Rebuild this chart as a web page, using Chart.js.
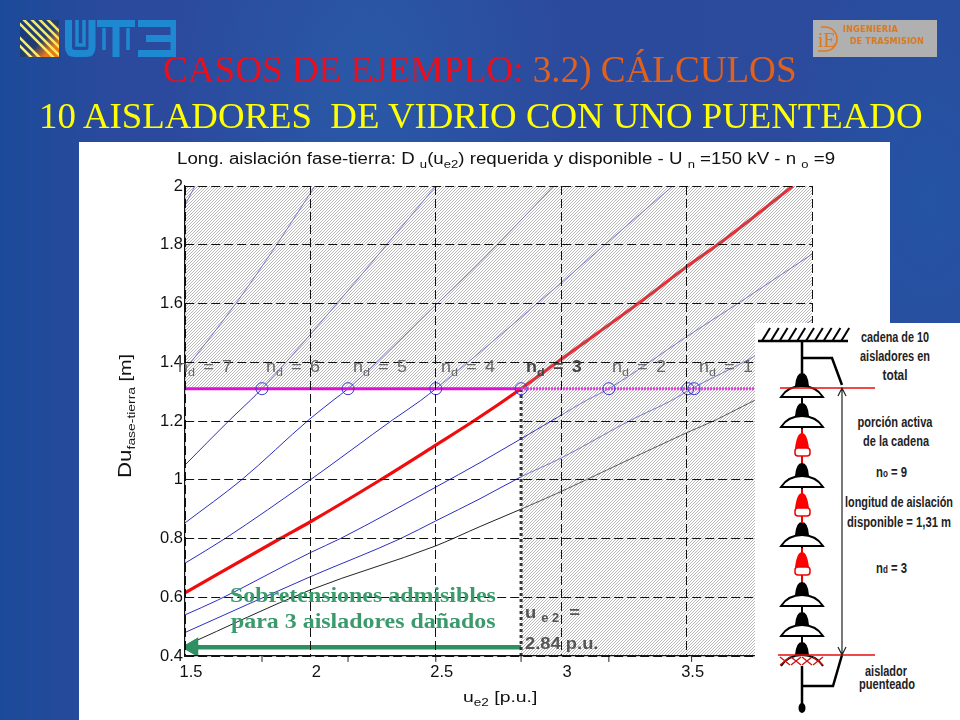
<!DOCTYPE html>
<html lang="es">
<head>
<meta charset="utf-8">
<title>Casos de ejemplo</title>
<script src="https://cdn.jsdelivr.net/npm/chart.js@4/dist/chart.umd.min.js"></script>
<style>
html, body { margin: 0; padding: 0; }
body {
    position: relative; width: 960px; height: 720px; overflow: hidden;
    background:
        radial-gradient(ellipse 200px 300px at 370px 90px, rgba(40,100,175,.55), rgba(40,100,175,0)),
        radial-gradient(ellipse 160px 300px at 930px 200px, rgba(30,90,170,.6), rgba(30,90,170,0)),
        linear-gradient(90deg, #1c4a9a 0, #2b4a9e 12%, #2d4a9c 100%);
    font-family: "Liberation Sans", Arial, sans-serif;
}
.abs { position: absolute; white-space: nowrap; transform-origin: left top; }
#panel { position: absolute; left: 79px; top: 142px; width: 811px; height: 578px; background: #fff; }
#chartBox { position: absolute; left: 0; top: 0; width: 960px; height: 720px; }
.serif { font-family: "Liberation Serif", "Times New Roman", serif; }
.title { line-height: 40px; }
sub { font-size: 70%; line-height: 0; vertical-align: -4px; }
.nd { color: #666; font-size: 16px; top: 358px; word-spacing: 3px; transform: scaleX(1.12); }
.green { color: #3a9a6c; font-weight: bold; font-size: 20px; transform: scaleX(1.195); }
.note { color: #555; font-weight: bold; font-size: 17px; transform: scaleX(1.08); }
#diagram { position: absolute; left: 755px; top: 323px; width: 205px; height: 397px; background: #fff; }
</style>
</head>
<body>
<div id="panel"></div>
<div id="chartBox"><canvas id="cadenaChart" width="960" height="720"></canvas></div>

<!-- logos -->
<svg class="abs" style="left:20px;top:20px" width="156" height="38" viewBox="0 0 156 38">
  <defs>
    <linearGradient id="fondo" x1="0" y1="0" x2="1" y2="1"><stop offset="0" stop-color="#123a8e"/><stop offset=".55" stop-color="#243c70"/><stop offset=".8" stop-color="#e8781a"/><stop offset="1" stop-color="#e8781a"/></linearGradient>
    <linearGradient id="raya" gradientUnits="userSpaceOnUse" x1="0" y1="37" x2="39" y2="0"><stop offset="0" stop-color="#fff060"/><stop offset="1" stop-color="#f4e84a"/></linearGradient>
    <clipPath id="cuad"><rect width="39" height="37"/></clipPath>
  </defs>
  <g clip-path="url(#cuad)">
    <rect width="39" height="37" fill="url(#fondo)"/>
    <g stroke="url(#raya)" stroke-width="2.6">
      <path d="M-22 4 L12 38 M-14 4 L20 38 M-6 -2 L34 38 M2 -2 L42 38 M10 -2 L50 38 M18 -2 L58 38 M26 -2 L66 38"/>
    </g>
  </g>
  <g fill="none" stroke="#1e88d0">
    <path stroke-width="7" d="M48.5 0 V27 Q48.5 33.5 55 33.5 H66 Q72 33.5 72 27 V0"/>
    <path stroke-width="3.5" d="M57 0 V25 H64 V0"/>
    <path stroke-width="7" d="M77 3.5 H115 M96 3.5 V37"/>
    <path stroke-width="3.5" d="M84 8 V30 M108 8 V30"/>
    <path stroke-width="7" d="M118 3.5 H154 V33.5 H118 M126 18.5 H152"/>
  </g>
</svg>
<div class="abs" style="left:813px;top:20px;width:124px;height:37px;background:#b0b0b0"></div>
<svg class="abs" style="left:813px;top:20px" width="32" height="37">
  <path d="M8 7 H12 A12 12 0 0 1 12 31 H5" fill="none" stroke="#e0781c" stroke-width="1.6"/>
  <text x="5" y="27" font-size="20" fill="#e0781c" font-family="Liberation Serif">iE</text>
</svg>
<div class="abs" style="left:843px;top:25px;color:#d87a20;font:bold 8px 'DejaVu Sans';letter-spacing:.3px">INGENIERIA</div>
<div class="abs" style="left:850px;top:37px;color:#d87a20;font:bold 8px 'DejaVu Sans';letter-spacing:.2px">DE TRASMISION</div>

<!-- titles -->
<div class="abs serif title" style="left:163px;top:50px;font-size:37.1px"><span style="color:#e8101e">CASOS DE EJEMPLO:</span> <span style="color:#e0601c">3.2) CÁLCULOS</span></div>
<div class="abs serif title" style="left:39px;top:96px;font-size:36.8px;color:#ffff00">10 AISLADORES&nbsp; DE VIDRIO CON UNO PUENTEADO</div>

<!-- chart texts -->
<div class="abs" style="left:177px;top:150px;font-size:16px;color:#111;transform:scaleX(1.167)">Long. aislación fase-tierra: D <sub>u</sub>(u<sub>e2</sub>) requerida y disponible - U <sub>n</sub> =150 kV - n <sub>o</sub> =9</div>
<div class="abs" style="left:115px;top:478px;font-size:16px;color:#111;transform:rotate(-90deg) scaleX(1.24)"><span style="font-size:18px">Du</span><sub>fase-tierra</sub> [m]</div>
<div class="abs" style="left:463px;top:688px;font-size:15.5px;color:#111;transform:scaleX(1.25)">u<sub>e2</sub> [p.u.]</div>

<div class="abs nd" style="left:178px">n<sub>d</sub> = 7</div>
<div class="abs nd" style="left:266px">n<sub>d</sub> = 6</div>
<div class="abs nd" style="left:353px">n<sub>d</sub> = 5</div>
<div class="abs nd" style="left:441px">n<sub>d</sub> = 4</div>
<div class="abs nd" style="left:526px;font-weight:bold;color:#444">n<sub>d</sub> = 3</div>
<div class="abs nd" style="left:612px">n<sub>d</sub> = 2</div>
<div class="abs nd" style="left:699px">n<sub>d</sub> = 1</div>

<div class="abs serif green" style="left:230px;top:584px">Sobretensiones admisibles</div>
<div class="abs serif green" style="left:231px;top:610px">para 3 aisladores dañados</div>
<div class="abs note" style="left:525px;top:603px">u <sub>e 2</sub>&nbsp; =</div>
<div class="abs note" style="left:525px;top:634px">2.84 p.u.</div>

<!-- insulator chain diagram -->
<div id="diagram"></div>
<svg class="abs" style="left:0;top:0" width="960" height="720" viewBox="0 0 960 720" id="chain"></svg>

<script>
// values, one x / y list per curve
const xNd8 = [1.5, 1.54];
const yNd8 = [1.935, 2];
const xNd7 = [1.5, 1.707, 1.87, 2.018];
const yNd7 = [1.374, 1.605, 1.806, 2];
const xNd6 = [1.5, 1.68, 1.76, 1.807, 2.106, 2.31, 2.5];
const yNd6 = [1.05, 1.205, 1.27, 1.31, 1.6, 1.806, 2];
const xNd5 = [1.5, 1.726, 1.995, 2.09, 2.15, 2.5, 2.676, 2.97];
const yNd5 = [0.853, 1, 1.205, 1.27, 1.31, 1.595, 1.74, 2];
const xNd4 = [1.5, 1.66, 2, 2.33, 2.44, 2.5, 2.836, 2.91, 3, 3.18, 3.445];
const yNd4 = [0.716, 0.8, 1, 1.205, 1.27, 1.31, 1.55, 1.605, 1.67, 1.805, 2];
const xNd3 = [1.5, 1.88, 2, 2.28, 2.5, 2.66, 2.84, 3, 3.315, 3.5, 3.633, 3.924];
const yNd3 = [0.615, 0.8, 0.857, 1, 1.118, 1.205, 1.31, 1.41, 1.605, 1.725, 1.806, 2];
const xNd2 = [1.5, 1.63, 2, 2.12, 2.5, 2.68, 3, 3.1, 3.19, 3.5, 3.713, 4];
const yNd2 = [0.54, 0.59, 0.752, 0.8, 0.975, 1.06, 1.22, 1.27, 1.31, 1.487, 1.605, 1.768];
const xNd1 = [1.5, 2, 2.36, 2.5, 2.68, 2.84, 3, 3.28, 3.44, 3.52, 3.765, 4];
const yNd1 = [0.48, 0.67, 0.8, 0.86, 0.937, 1.01, 1.074, 1.204, 1.27, 1.31, 1.418, 1.544];
const xNd0 = [1.5, 2, 2.5, 2.68, 2.84, 3, 3.1, 3.5, 3.62, 3.77, 4];
const yNd0 = [0.435, 0.625, 0.775, 0.842, 0.9, 0.96, 1, 1.16, 1.205, 1.27, 1.36];

const longitudDisponible = 1.31;
const ueAdmisible = 2.84;
const yFlecha = 0.43;
const yMarca = 0.39;
const xCirculos = [1.807, 2.15, 2.5, 2.84, 3.19, 3.505, 3.53];
const xMarcas = [1.807, 2.15, 2.5, 2.84, 3.19, 3.52];
const xMin = 1.5, xMax = 4, yMin = 0.4, yMax = 2;

function pts(xs, ys) { return xs.map((x, i) => ({ x: x, y: ys[i] })); }

function hatch() {
    const c = document.createElement("canvas");
    c.width = 3; c.height = 3;
    const g = c.getContext("2d");
    g.strokeStyle = "rgba(110,110,110,0.7)";
    g.lineWidth = 0.7;
    g.beginPath();
    g.moveTo(-1, 4); g.lineTo(4, -1);
    g.moveTo(-1, 1); g.lineTo(1, -1);
    g.moveTo(2, 4); g.lineTo(4, 2);
    g.stroke();
    return g.createPattern(c, "repeat");
}
const rayado = hatch();

function recta(xs, ys, color, width, order) {
    return { data: pts(xs, ys), showLine: true, borderColor: color, borderWidth: width, pointRadius: 0, order: order };
}
// the curves look washed out where they run through the hatching
function curva(xs, ys, color, width, colorRayado) {
    return Object.assign(recta(xs, ys, color, width, 1), {
        cubicInterpolationMode: "monotone",
        segment: {
            borderColor: function(ctx) {
                return (ctx.p0.parsed.y >= longitudDisponible || ctx.p0.parsed.x >= ueAdmisible) ? colorRayado : undefined;
            }
        }
    });
}
const azul = "#2c2cc4";
const azulClaro = "#7a7ad8";

new Chart(document.getElementById("cadenaChart").getContext("2d"), {
    type: "scatter",
    data: {
        datasets: [
            // magenta line, circles, markers sit above the hatching
            { data: pts(xCirculos, xCirculos.map(() => longitudDisponible)), pointStyle: "circle", pointRadius: 6, pointBorderColor: "#3a3ad0", pointBorderWidth: 1, pointBackgroundColor: "rgba(0,0,0,0)", order: -3 },
            recta([xMin, ueAdmisible], [longitudDisponible, longitudDisponible], "#e010d8", 3, -2),
            Object.assign(recta([ueAdmisible, xMax], [longitudDisponible, longitudDisponible], "#e838e0", 3, -2), { borderDash: [2, 1] }),
            Object.assign(recta([ueAdmisible, ueAdmisible], [yMin, longitudDisponible], "#333", 3, -2), { borderDash: [3, 3] }),
            { data: pts(xMarcas, xMarcas.map(() => yMarca)), pointStyle: "line", rotation: 90, pointRadius: 3, pointBorderColor: "#222", pointBorderWidth: 1, clip: false, order: -2 },
            { data: pts([ueAdmisible, xMin + 0.03], [yFlecha, yFlecha]), showLine: true, borderColor: "#2e8f62", borderWidth: 4.5, pointStyle: ["circle", "triangle"], rotation: -90, pointRadius: [0, 7], pointBackgroundColor: "#2e8f62", pointBorderColor: "#2e8f62", order: -2 },
            // hatched zones
            { data: pts([xMin, xMax], [yMax, yMax]), showLine: true, borderWidth: 0, pointRadius: 0, fill: { value: longitudDisponible }, backgroundColor: rayado, order: 0 },
            { data: pts([ueAdmisible, xMax], [longitudDisponible, longitudDisponible]), showLine: true, borderWidth: 0, pointRadius: 0, fill: { value: yMin }, backgroundColor: rayado, order: 0 },
            // curves for each damaged insulator count
            curva(xNd8, yNd8, azul, 1, azulClaro),
            curva(xNd7, yNd7, azul, 1, azulClaro),
            curva(xNd6, yNd6, azul, 1, azulClaro),
            curva(xNd5, yNd5, azul, 1, azulClaro),
            curva(xNd4, yNd4, azul, 1, azulClaro),
            curva(xNd3, yNd3, "#f00c0c", 3.2, "#ec2c34"),
            curva(xNd2, yNd2, azul, 1, azulClaro),
            curva(xNd1, yNd1, azul, 1, azulClaro),
            curva(xNd0, yNd0, "#222", 1, "#555")
        ]
    },
    options: {
        responsive: false,
        animation: false,
        layout: { padding: { left: 145, right: 148, top: 186, bottom: 34 } },
        plugins: { legend: { display: false }, tooltip: { enabled: false } },
        scales: {
            x: {
                type: "linear", min: xMin, max: xMax,
                afterFit: function(s) { s.height = 30; },
                grid: { color: "#111", lineWidth: 1, z: 1, drawTicks: false },
                border: { color: "#111", width: 1.2, dash: [9, 4], z: 2 },
                ticks: { stepSize: 0.5, color: "#111", padding: 7, labelOffset: 6, maxRotation: 0, font: { family: "Liberation Sans", size: 16.5 },
                    callback: function(v) { return String(+v.toFixed(1)); } }
            },
            y: {
                min: yMin, max: yMax,
                afterFit: function(s) { s.width = 40; },
                grid: { color: "#111", lineWidth: 1, z: 1, drawTicks: false },
                border: { color: "#111", width: 1.2, dash: [9, 4], z: 2 },
                ticks: { stepSize: 0.2, color: "#111", padding: 2, font: { family: "Liberation Sans", size: 16.5 },
                    callback: function(v) { return String(+v.toFixed(1)); } }
            }
        }
    }
});

// insulator chain drawing
const domosNegros = [373, 403, 463, 522, 582, 612, 642];
const domosRojos = [433, 493, 552];
const rotulos = [
    ["cadena de 10", 895, 342, 68], ["aisladores en", 895, 361, 70], ["total", 895, 380, 25],
    ["porción activa", 895, 427, 75], ["de la cadena", 896, 446, 66],
    ["longitud de aislación", 899, 507, 108], ["disponible = 1,31 m", 899, 527, 104],
    ["aislador", 886, 676, 42], ["puenteado", 887, 689, 56]
];
let s = '<g stroke="#000" fill="none" stroke-width="2">';
s += '<path stroke-width="2.5" d="M758 341 H848"/>';
for (let i = 0; i < 10; i++) s += '<path d="M' + (762 + i * 8.8) + ' 341 L' + (770 + i * 8.8) + ' 328"/>';
s += '<path stroke-width="2.5" d="M802 341 V375 M802 358 H832 L842 385 M802 655 V705 M842 655 L833 686 H802"/>';
s += '</g>';
domosNegros.forEach(function(y) {
    const crossed = y === 642;
    s += '<path d="M802 ' + (y - 2) + ' V' + (y + 32) + '" stroke="#000" stroke-width="2" />';
    s += '<path d="M795 ' + (y + 13) + ' Q796 ' + y + ' 802 ' + y + ' Q808 ' + y + ' 809 ' + (y + 13) + ' Z" fill="#000"/>';
    if (crossed) s += '<path d="M781 ' + (y + 24) + ' Q788 ' + (y + 13) + ' 802 ' + (y + 13) + ' Q816 ' + (y + 13) + ' 823 ' + (y + 24) + '" fill="#fff" stroke="#000" stroke-width="2"/>';
    else s += '<path d="M781 ' + (y + 24) + ' Q788 ' + (y + 13) + ' 802 ' + (y + 13) + ' Q816 ' + (y + 13) + ' 823 ' + (y + 24) + ' Z" fill="#fff" stroke="#000" stroke-width="2"/>';
});
domosRojos.forEach(function(y) {
    s += '<path d="M802 ' + (y - 4) + ' V' + (y + 30) + '" stroke="#e00" stroke-width="2"/>';
    s += '<path d="M795 ' + (y + 15) + ' Q797 ' + y + ' 802 ' + y + ' Q807 ' + y + ' 809 ' + (y + 15) + ' Z" fill="#f00"/>';
    s += '<rect x="795" y="' + (y + 15) + '" width="15" height="8" rx="3" fill="#fff" stroke="#e00" stroke-width="1.5"/>';
});
s += '<path d="M780 388 H875 M778 655 H875" stroke="#e81010" stroke-width="1.5"/>';
for (let i = 0; i < 4; i++) {
    const x = 780 + i * 11;
    s += '<path d="M' + x + ' 657 L' + (x + 10) + ' 665 M' + (x + 10) + ' 657 L' + x + ' 665" stroke="#d01010" stroke-width="1.3"/>';
}
s += '<path d="M842 388 V655 M838 396 L842 388 L846 396 M838 647 L842 655 L846 647" stroke="#222" fill="none" stroke-width="1.2"/>';
s += '<ellipse cx="802" cy="708" rx="3.5" ry="5" fill="#000"/>';
rotulos.forEach(function(r) {
    s += '<text x="' + r[1] + '" y="' + r[2] + '" text-anchor="middle" textLength="' + r[3] + '" lengthAdjust="spacingAndGlyphs" font-family="Liberation Sans" font-weight="bold" font-size="14" fill="#222">' + r[0] + '</text>';
});
s += '<text x="876" y="477" font-family="Liberation Sans" font-weight="bold" font-size="14" fill="#222" textLength="31" lengthAdjust="spacingAndGlyphs">n<tspan font-size="10">o</tspan> = 9</text>';
s += '<text x="876" y="573" font-family="Liberation Sans" font-weight="bold" font-size="14" fill="#222" textLength="31" lengthAdjust="spacingAndGlyphs">n<tspan font-size="10">d</tspan> = 3</text>';
document.getElementById("chain").innerHTML = s;
</script>
</body>
</html>
